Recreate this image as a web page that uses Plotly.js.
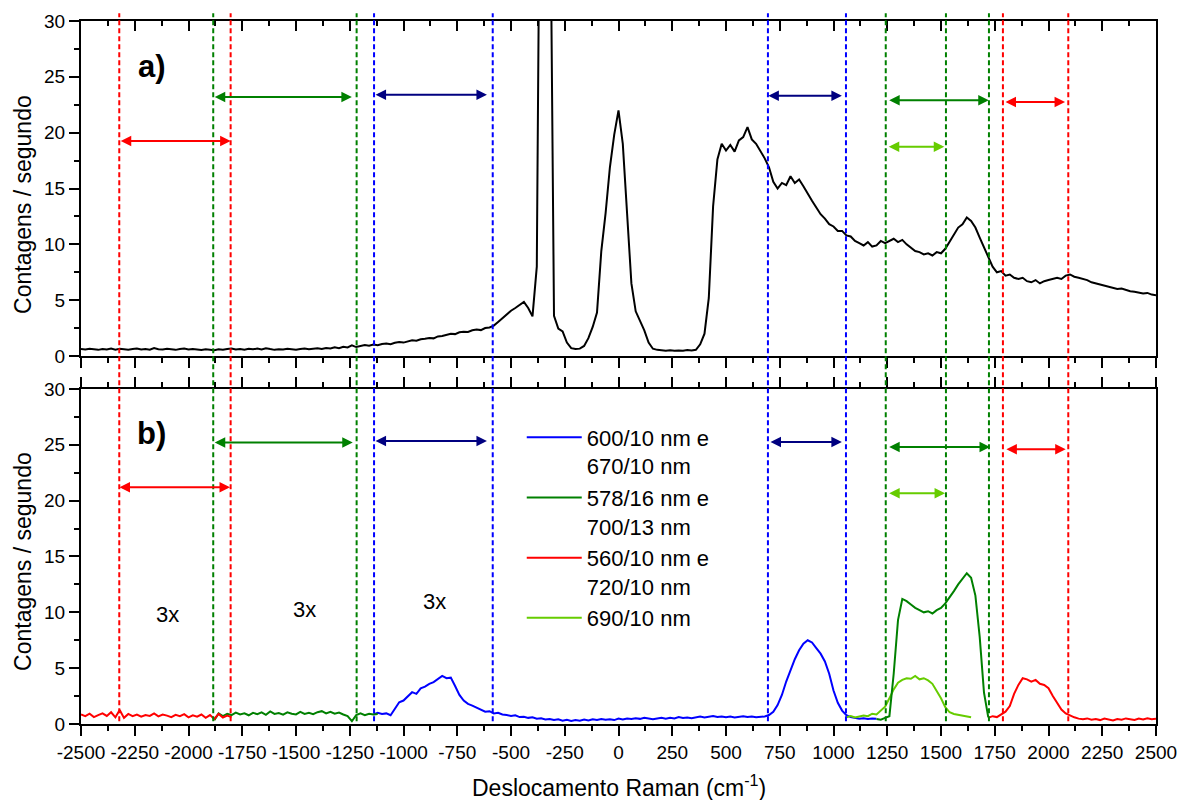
<!DOCTYPE html>
<html>
<head>
<meta charset="utf-8">
<script src="https://cdn.plot.ly/plotly-3.0.1.min.js"></script>
<style>
  html, body { margin: 0; padding: 0; background: #ffffff; }
  #chart { width: 1178px; height: 800px; }
</style>
</head>
<body>
<div id="chart"></div>
<script>
// Sampling step of every spectrum (cm-1)
const STEP = 20;

// (a) full spectrum, counts per second, starting at -2500 cm-1
const startA = -2500;
const countsA = [
  0.62, 0.58, 0.65, 0.60, 0.55, 0.63, 0.59, 0.66, 0.57, 0.64,
  0.60, 0.56, 0.62, 0.68, 0.59, 0.63, 0.57, 0.72, 0.61, 0.58,
  0.64, 0.60, 0.55, 0.62, 0.66, 0.58, 0.63, 0.59, 0.54, 0.61,
  0.57, 0.52, 0.60, 0.56, 0.63, 0.68, 0.59, 0.62, 0.57, 0.64,
  0.60, 0.66, 0.58, 0.70, 0.62, 0.55, 0.61, 0.58, 0.64, 0.59,
  0.56, 0.62, 0.67, 0.60, 0.64, 0.70, 0.63, 0.72, 0.68, 0.78,
  0.70, 0.82, 0.76, 0.95, 0.80, 0.88, 0.98, 0.92, 1.02, 0.96,
  1.08, 1.12, 1.05, 1.18, 1.25, 1.20, 1.32, 1.40, 1.36, 1.50,
  1.55, 1.62, 1.58, 1.75, 1.80, 1.92, 2.00, 1.96, 2.12, 2.18,
  2.15, 2.30, 2.38, 2.32, 2.50, 2.56, 2.72, 3.05, 3.40, 3.72,
  4.05, 4.30, 4.55, 4.85, 4.30, 3.55, 8.0, 60.0, 75.0, 48.0,
  3.60, 2.45, 2.20, 1.20, 0.70, 0.62, 0.66, 0.90, 1.60, 2.60,
  3.90, 9.40, 12.8, 16.9, 19.8, 22.0, 19.0, 12.8, 6.5, 4.0,
  3.1, 2.3, 1.2, 0.65, 0.55, 0.50, 0.48, 0.52, 0.46, 0.50,
  0.47, 0.53, 0.49, 0.55, 1.05, 2.0, 5.2, 13.4, 17.6, 19.0,
  18.4, 18.9, 18.3, 19.3, 19.6, 20.5, 19.4, 19.0, 18.4, 17.7,
  16.9, 15.6, 15.0, 15.5, 15.3, 16.1, 15.5, 15.8, 15.2, 14.5,
  13.9, 13.3, 12.7, 12.3, 11.8, 11.6, 11.2, 11.2, 10.8, 10.7,
  10.3, 10.1, 9.9, 10.2, 9.8, 9.9, 10.3, 10.1, 10.3, 10.5,
  10.2, 10.4, 10.0, 9.7, 9.4, 9.3, 9.1, 9.2, 9.0, 9.3,
  9.2, 9.6, 10.2, 10.9, 11.5, 11.8, 12.4, 12.1, 11.5, 10.6,
  9.7, 8.9, 8.0, 7.5, 7.6, 7.2, 7.3, 7.0, 6.9, 7.0,
  6.7, 6.6, 6.8, 6.5, 6.7, 6.8, 6.9, 7.0, 6.9, 7.2,
  7.3, 7.1, 7.0, 6.9, 6.8, 6.6, 6.5, 6.4, 6.3, 6.2,
  6.1, 6.0, 6.05, 5.9, 5.8, 5.75, 5.7, 5.6, 5.65, 5.5,
  5.45
];

// (b) filtered spectra
const startBlue = -1140;   // 600/10 nm e 670/10 nm
const countsBlue = [
  0.85, 1.00, 0.90, 0.95, 0.78, 1.40, 1.95, 2.10, 2.50, 2.85,
  2.70, 3.20, 3.35, 3.60, 3.75, 4.05, 4.30, 4.10, 4.15, 3.40,
  2.60, 2.10, 1.80, 1.65, 1.45, 1.30, 1.10, 1.15, 0.95, 1.00,
  0.85, 0.80, 0.72, 0.78, 0.62, 0.65, 0.55, 0.60, 0.48, 0.52,
  0.40, 0.45, 0.35, 0.42, 0.30, 0.38, 0.28, 0.35, 0.30, 0.40,
  0.32, 0.42, 0.36, 0.45, 0.38, 0.42, 0.35, 0.48, 0.40, 0.50,
  0.44, 0.52, 0.46, 0.55, 0.48, 0.42, 0.50, 0.56, 0.48, 0.55,
  0.50, 0.62, 0.54, 0.58, 0.52, 0.60, 0.66, 0.58, 0.64, 0.72,
  0.62, 0.68, 0.60, 0.66, 0.58, 0.64, 0.70, 0.62, 0.66, 0.60,
  0.64, 0.68, 0.80, 1.10, 1.70, 2.60, 3.80, 4.90, 5.80, 6.60,
  7.20, 7.50, 7.30, 6.80, 6.30, 5.60, 4.50, 3.00, 1.90, 1.20,
  0.80, 0.62, 0.55, 0.48, 0.52, 0.45, 0.50, 0.48
];

const startGreenL = -1880; // 578/16 nm e 700/13 nm, anti-Stokes side
const countsGreenL = [
  0.35, 0.95, 0.70, 0.92, 0.80, 1.02, 0.85, 0.95, 0.78, 1.00,
  0.88, 1.05, 0.82, 1.12, 0.90, 0.98, 0.84, 1.05, 0.92, 0.86,
  1.08, 0.90, 1.00, 0.88, 1.06, 1.15, 0.95, 1.10, 0.92, 1.02,
  0.85, 0.70, 0.25, 0.80, 0.95, 0.78, 0.92, 0.85, 0.90
];

const startRedL = -2500;   // 560/10 nm e 720/10 nm, anti-Stokes side
const countsRedL = [
  0.85, 0.70, 0.92, 0.62, 0.80, 0.95, 0.72, 1.05, 0.60, 1.25,
  0.55, 0.90, 0.70, 0.85, 0.65, 0.80, 0.72, 0.95, 0.68, 0.85,
  0.75, 0.62, 0.82, 0.70, 0.88, 0.60, 0.78, 0.66, 0.85, 0.55,
  0.80, 0.45, 0.90, 0.58, 0.75, 0.62
];

const startLime = 1060;    // 690/10 nm
const countsLime = [
  0.60, 0.72, 0.58, 0.68, 0.75, 0.70, 0.92, 0.85, 1.20, 1.55,
  2.30, 3.10, 3.70, 3.95, 4.10, 4.05, 4.30, 4.00, 4.10, 3.90,
  3.60, 3.00, 2.30, 1.50, 1.05, 0.90, 0.82, 0.75, 0.68, 0.60
];

const startGreenR = 1200;  // 578/16 nm e 700/13 nm, Stokes side
const countsGreenR = [
  0.45, 0.38, 0.55, 0.70, 4.50, 9.30, 11.2, 11.0, 10.7, 10.4,
  10.2, 10.0, 10.1, 9.9, 10.2, 10.4, 10.8, 11.3, 11.9, 12.5,
  13.0, 13.5, 13.1, 11.5, 7.8, 2.8, 0.60
];

const startRedR = 1720;    // 560/10 nm e 720/10 nm, Stokes side
const countsRedR = [
  0.55, 0.70, 0.62, 0.85, 1.10, 1.60, 2.70, 3.50, 4.10, 4.00,
  3.80, 3.95, 3.60, 3.50, 3.20, 2.50, 1.90, 1.30, 0.95, 0.75,
  0.60, 0.48, 0.42, 0.50, 0.38, 0.45, 0.35, 0.48, 0.40, 0.32,
  0.45, 0.38, 0.50, 0.42, 0.36, 0.48, 0.40, 0.52, 0.42, 0.46
];

const legendNames = ['600/10 nm e<br>670/10 nm', '578/16 nm e<br>700/13 nm',
                     '560/10 nm e<br>720/10 nm', '690/10 nm'];

// Filter edges (cm-1)
const redEdges = [-2322, -1804, 1788, 2092];
const greenEdges = [-1885, -1218, 1243, 1523, 1723];
const blueEdges = [-1137, -585, 695, 1058];

// Pass bands drawn as double arrows: [from, to, height, colour]
const bandsA = [
  [-2322, -1804, 19.25, '#FF0000'],
  [-1885, -1240, 23.2, '#008000'],
  [-1137, -612, 23.4, '#000080'],
  [690, 1039, 23.3, '#000080'],
  [1252, 1722, 22.9, '#008000'],
  [1250, 1515, 18.74, '#66CC00'],
  [1793, 2077, 22.75, '#FF0000']
];
const bandsB = [
  [-2328, -1807, 21.2, '#FF0000'],
  [-1885, -1236, 25.2, '#008000'],
  [-1137, -612, 25.35, '#000080'],
  [700, 1039, 25.25, '#000080'],
  [1252, 1728, 24.8, '#008000'],
  [1252, 1519, 20.66, '#66CC00'],
  [1797, 2080, 24.6, '#FF0000']
];

// Gain labels on panel (b): [shift, counts]
const gainLabels = [[-2100, 9.8], [-1460, 10.25], [-854, 11.0]];

const shiftTicks = [-2500, -2250, -2000, -1750, -1500, -1250, -1000, -750, -500, -250,
                    0, 250, 500, 750, 1000, 1250, 1500, 1750, 2000, 2250, 2500];
const shiftTickText = ['-2500', '-2250', '-2000', '-1750', '-1500', '-1250', '-1000', '-750', '-500', '-250',
                       '0', '250', '500', '750', '1000', '1250', '1500', '1750', '2000', '2250', '2500'];
const countTicks = [0, 5, 10, 15, 20, 25, 30];
const countTickText = ['0', '5', '10', '15', '20', '25', '30'];

function shifts(start, n) {
  const out = [];
  for (let i = 0; i < n; i++) out.push(start + i * STEP);
  return out;
}

const FONT = 'Liberation Sans, Arial, Helvetica, sans-serif';

function line(start, values, color, axes, name, showlegend) {
  return {
    type: 'scatter', mode: 'lines',
    x: shifts(start, values.length), y: values,
    xaxis: axes[0], yaxis: axes[1],
    line: { color: color, width: 2 },
    name: name || 'spectrum', showlegend: !!showlegend, hoverinfo: 'skip'
  };
}

const traces = [
  line(startA, countsA, '#000000', ['x2', 'y'], '', false),
  line(startBlue, countsBlue, '#0000FF', ['x', 'y2'], legendNames[0], true),
  line(startGreenL, countsGreenL, '#008000', ['x', 'y2'], legendNames[1], true),
  line(startRedL, countsRedL, '#FF0000', ['x', 'y2'], legendNames[2], true),
  line(startLime, countsLime, '#66CC00', ['x', 'y2'], legendNames[3], true),
  line(startGreenR, countsGreenR, '#008000', ['x', 'y2'], '', false),
  line(startRedR, countsRedR, '#FF0000', ['x', 'y2'], '', false),
  // carries the inward ticks along the top edge of panel (a)
  { type: 'scatter', mode: 'lines', x: [null], y: [null], xaxis: 'x3', yaxis: 'y',
    name: 'frame', showlegend: false, hoverinfo: 'skip' }
];

const xRange = [-2500, 2500];
const yRange = [0, 30];

function xAxis(extra) {
  return Object.assign({
    range: xRange, fixedrange: true,
    tickmode: 'array', tickvals: shiftTicks, ticktext: shiftTickText,
    ticks: 'outside', ticklen: 10, tickwidth: 2, tickcolor: '#000',
    minor: { tickmode: 'linear', tick0: -2500, dtick: 125, ticks: 'outside', ticklen: 5, tickwidth: 2, tickcolor: '#000', showgrid: false },
    showline: true, linewidth: 2, linecolor: '#000',
    showgrid: false, zeroline: false,
    tickfont: { family: FONT, size: 19, color: '#000' }
  }, extra);
}

function yAxis(extra) {
  return Object.assign({
    range: yRange, fixedrange: true,
    tickmode: 'array', tickvals: countTicks, ticktext: countTickText,
    ticks: 'outside', ticklen: 10, tickwidth: 2, tickcolor: '#000',
    minor: { tickmode: 'linear', tick0: 0, dtick: 2.5, ticks: 'outside', ticklen: 5, tickwidth: 2, tickcolor: '#000', showgrid: false },
    showline: true, linewidth: 2, linecolor: '#000', mirror: true,
    showgrid: false, zeroline: false,
    tickfont: { family: FONT, size: 19, color: '#000' }
  }, extra);
}

const shapes = [];
function edges(list, color) {
  list.forEach(function (v) {
    shapes.push({
      type: 'line', xref: 'x', yref: 'paper', x0: v, x1: v, y0: 0.004, y1: 1.011,
      line: { color: color, width: 2, dash: '5px,3px' }, layer: 'above'
    });
  });
}
edges(redEdges, '#FF0000');
edges(greenEdges, '#008000');
edges(blueEdges, '#0000FF');

const annotations = [];
function bands(list, xr, yr) {
  list.forEach(function (b) {
    annotations.push({
      xref: xr, yref: yr, axref: xr, ayref: yr,
      x: b[1], y: b[2], ax: b[0], ay: b[2],
      text: '', font: { size: 1 }, showarrow: true,
      arrowside: 'end+start', arrowhead: 2, startarrowhead: 2,
      arrowsize: 1.05, startarrowsize: 1.05, arrowwidth: 2, arrowcolor: b[3],
      standoff: 0, startstandoff: 0
    });
  });
}
bands(bandsA, 'x2', 'y');
bands(bandsB, 'x', 'y2');

annotations.push({ xref: 'x2', yref: 'y', x: -2170, y: 25.97, text: '<b>a)</b>', showarrow: false,
  font: { family: FONT, size: 31, color: '#000' }, xanchor: 'center', yanchor: 'middle' });
annotations.push({ xref: 'x', yref: 'y2', x: -2170, y: 26.0, text: '<b>b)</b>', showarrow: false,
  font: { family: FONT, size: 31, color: '#000' }, xanchor: 'center', yanchor: 'middle' });

gainLabels.forEach(function (g) {
  annotations.push({ xref: 'x', yref: 'y2', x: g[0], y: g[1], text: '3x', showarrow: false,
    font: { family: FONT, size: 22, color: '#000' }, xanchor: 'center', yanchor: 'middle' });
});

// axis titles
annotations.push({ xref: 'paper', yref: 'paper', x: -0.054, y: 0.7397, text: 'Contagens / segundo',
  textangle: -90, showarrow: false, font: { family: FONT, size: 23, color: '#000' },
  xanchor: 'center', yanchor: 'middle' });
annotations.push({ xref: 'paper', yref: 'paper', x: -0.054, y: 0.2319, text: 'Contagens / segundo',
  textangle: -90, showarrow: false, font: { family: FONT, size: 23, color: '#000' },
  xanchor: 'center', yanchor: 'middle' });
annotations.push({ xref: 'paper', yref: 'paper', x: 0.5, y: -0.0885, text: 'Deslocamento Raman (cm<sup>-1</sup>)',
  showarrow: false, font: { family: FONT, size: 23, color: '#000' },
  xanchor: 'center', yanchor: 'middle' });

const layout = {
  width: 1178, height: 800,
  margin: { l: 81, r: 22, t: 21, b: 76, pad: 0 },
  paper_bgcolor: '#ffffff', plot_bgcolor: '#ffffff',
  font: { family: FONT, size: 19, color: '#000' },
  showlegend: true,
  legend: {
    x: 0.41, y: 0.4375, xanchor: 'left', yanchor: 'top',
    bgcolor: 'rgba(0,0,0,0)', borderwidth: 0,
    font: { family: FONT, size: 22, color: '#000' },
    valign: 'top', itemwidth: 55, tracegroupgap: 0
  },
  xaxis: xAxis({ anchor: 'y2', mirror: 'ticks', domain: [0, 1] }),
  xaxis2: xAxis({ anchor: 'y', mirror: true, showticklabels: false, domain: [0, 1] }),
  xaxis3: xAxis({ anchor: 'y', overlaying: 'x2', side: 'top', showline: false, showticklabels: false,
                  ticks: 'inside',
                  minor: { tickmode: 'linear', tick0: -2500, dtick: 125, ticks: 'inside', ticklen: 5, tickwidth: 2, tickcolor: '#000', showgrid: false } }),
  yaxis: yAxis({ anchor: 'x2', domain: [0.52347, 1] }),
  yaxis2: yAxis({ anchor: 'x', domain: [0, 0.47653] }),
  shapes: shapes,
  annotations: annotations
};

Plotly.newPlot('chart', traces, layout, { staticPlot: true, displayModeBar: false });
</script>
</body>
</html>
